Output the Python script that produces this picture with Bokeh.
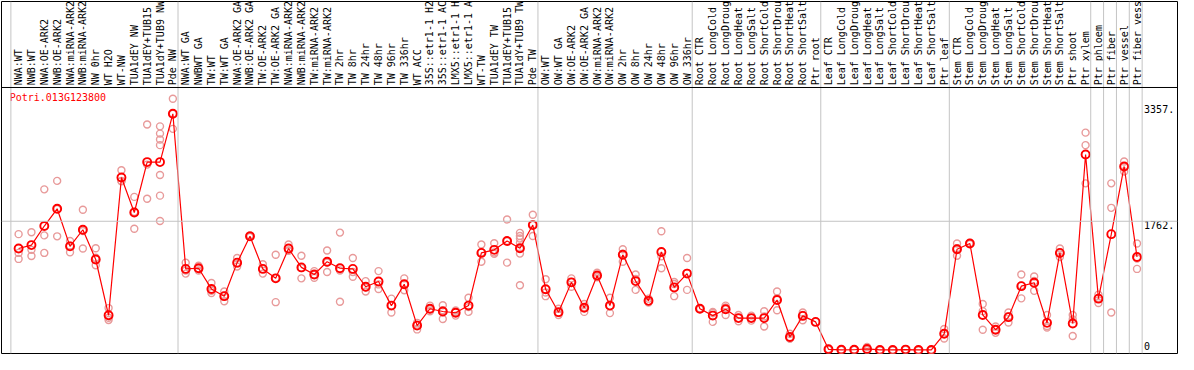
from math import pi
from bokeh.plotting import figure
from bokeh.models import Range1d, Span
from bokeh.core.properties import value
from bokeh.embed import file_html
from bokeh.resources import INLINE

gene_title = "Potri.013G123800"

samples = [
    "NWA:WT", "NWB:WT", "NWA:OE-ARK2", "NWB:OE-ARK2", "NWA:miRNA-ARK2", "NWB:miRNA-ARK2",
    "NW 0hr", "WT H2O", "WT-NW", "TUA1dEY NW", "TUA1dEY+TUB15", "TUA1dY+TUB9 NW", "Pde NW",
    "NWA:WT GA", "NWBWT GA", "TW:WT", "TW:WT GA", "NWA:OE-ARK2 GA", "NWB:OE-ARK2 GA",
    "TW:OE-ARK2", "TW:OE-ARK2 GA", "NWA:miRNA-ARK2", "NWB:miRNA-ARK2", "TW:miRNA-ARK2",
    "TW:miRNA-ARK2", "TW 2hr", "TW 8hr", "TW 24hr", "TW 48hr", "TW 96hr", "TW 336hr", "WT ACC",
    "35S::etr1-1 H2", "35S::etr1-1 AC", "LMX5::etr1-1 H", "LMX5::etr1-1 A", "WT-TW",
    "TUA1dEY TW", "TUA1dEY+TUB15", "TUA1dY+TUB9 TW", "Pde TW",
    "OW:WT", "OW:WT GA", "OW:OE-ARK2", "OW:OE-ARK2 GA", "OW:miRNA-ARK2", "OW:miRNA-ARK2",
    "OW 2hr", "OW 8hr", "OW 24hr", "OW 48hr", "OW 96hr", "OW 336hr",
    "Root CTR", "Root LongCold", "Root LongDroug", "Root LongHeat", "Root LongSalt",
    "Root ShortCold", "Root ShortDrou", "Root ShortHeat", "Root ShortSalt", "Ptr root",
    "Leaf CTR", "Leaf LongCold", "Leaf LongDroug", "Leaf LongHeat", "Leaf LongSalt",
    "Leaf ShortCold", "Leaf ShortDrou", "Leaf ShortHeat", "Leaf ShortSalt", "Ptr leaf",
    "Stem CTR", "Stem LongCold", "Stem LongDroug", "Stem LongHeat", "Stem LongSalt",
    "Stem ShortCold", "Stem ShortDrou", "Stem ShortHeat", "Stem ShortSalt", "Ptr shoot",
    "Ptr xylem", "Ptr phloem", "Ptr fiber", "Ptr vessel", "Ptr fiber vess",
]

group_sizes = [13, 28, 12, 10, 10, 11, 1, 1, 1, 1]

means = [
    1389, 1436, 1697, 1933, 1419, 1646, 1239, 475, 2362, 1882, 2572, 2572, 3233,
    1110, 1119, 836, 737, 1196, 1556, 1110, 981, 1389, 1131, 1033, 1209, 1119, 1110,
    866, 938, 608, 900, 334, 565, 527, 510, 608, 1329, 1371, 1492, 1393, 1710,
    831, 518, 926, 578, 1020, 608, 1303, 943, 673, 1342, 857, 1046,
    565, 471, 557, 437, 437, 437, 685, 179, 467, 385,
    10, 3, 4, 15, 1, 1, 6, 1, 1, 222,
    1380, 1457, 480, 278, 450, 874, 921, 372, 1329, 364, 2675,
    703, 1586, 2512, 1273,
]

replicates = [
    [1586, 1329, 1247], [1612, 1371, 1286], [2199, 1569, 1329], [2315, 1556, 1928],
    [1492, 1337, 1428], [1920, 1389, 1629], [1393, 1264, 1160], [574, 441, 411],
    [2461, 2311, 2314], [2096, 1659, 1891], [3087, 2070, 2538],
    [3061, 2962, 2881, 2804, 2396, 2113, 1766], [3438, 3027, 3234],
    [1196, 1046, 1088], [1153, 1088, 1116], [917, 780, 811], [801, 668, 743],
    [1260, 1144, 1184], [1570, 1550, 1548], [1174, 1046, 1110], [1303, 655, 985],
    [1444, 1359, 1364], [1290, 981, 1122], [1080, 990, 1029], [1363, 1067, 1197],
    [1607, 660, 1088], [1260, 1003, 1067], [943, 801, 854], [1080, 836, 898],
    [703, 514, 607], [981, 818, 901], [372, 282, 348], [608, 531, 556],
    [613, 424, 544], [540, 471, 519], [715, 522, 587], [1444, 1209, 1334],
    [1462, 1316, 1335], [1787, 1196, 1493],
    [1603, 1560, 1526, 1466, 1320, 887, 1389], [1852, 1560, 1718],
    [968, 737, 788], [565, 480, 510], [981, 866, 930], [630, 522, 582],
    [1058, 994, 1009], [715, 505, 604], [1380, 1209, 1320], [1033, 823, 973],
    [703, 651, 665], [1625, 1119, 1282], [930, 737, 904], [1260, 823, 1055],
    [560, 570, 565], [522, 385, 506], [608, 480, 583], [480, 394, 437],
    [471, 402, 438], [531, 321, 459], [801, 544, 710], [222, 158, 157],
    [514, 407, 480], [385],
    [14, 5, 11], [4, 2, 3], [6, 2, 4], [42, 0, 3], [1, 1, 1], [1, 1, 1],
    [10, 3, 5], [1, 1, 1], [1, 1, 1], [287, 158, 221],
    [1457, 1290, 1393], [1465, 1450, 1457], [630, 278, 532], [321, 235, 278],
    [514, 377, 459], [1033, 707, 882], [1007, 810, 946], [480, 308, 328],
    [1389, 1273, 1325], [480, 192, 420], [2975, 2804, 2281],
    [758, 643, 708], [2281, 1946, 514], [2581, 2444, 2511], [1457, 1110, 1252],
]

y_ticks = [3357, 1762, 0]
y_tick_labels = ["3357.", "1762.", "0"]
grid_value = 1762

# ---------------- layout constants ----------------
HEADER_Y = 3593      # separator between label header and plot area (data units)
Y_TOP = 4770
Y_BOTTOM = -47.6
MONO = value("DejaVu Sans Mono")
RED = "#ff0000"
PINK = "#e89a9a"
SEP = "#c4c4c4"

idx = list(range(len(samples)))
rep_x = [i for i, r in enumerate(replicates) for _ in r]
rep_y = [v for r in replicates for v in r]

p = figure(width=1178, height=354, output_backend="svg", toolbar_location=None, tools="",
           x_range=Range1d(-1.33, 90.15), y_range=Range1d(Y_BOTTOM, Y_TOP),
           x_axis_type=None, y_axis_type=None, min_border=1)
p.grid.visible = False
p.outline_line_color = "black"
p.outline_line_width = 1
p.background_fill_color = "white"
p.border_fill_color = "white"

# group separators
b = -0.5
bounds = [b]
for g in group_sizes:
    b += g
    bounds.append(b)
for bd in bounds:
    p.add_layout(Span(location=bd - 0.1, dimension="height", line_color=SEP, line_width=1))

p.add_layout(Span(location=grid_value, dimension="width", line_color=SEP, line_width=1))
p.add_layout(Span(location=HEADER_Y, dimension="width", line_color="black", line_width=1))

# header labels (vertical)
p.text(x=idx, y=[HEADER_Y + 30] * len(idx), text=samples, angle=pi / 2,
       text_align="left", text_baseline="middle", text_font=MONO,
       text_font_size="10px", text_color="black")

# gene title
p.text(x=[-0.69], y=[3452], text=[gene_title], text_align="left", text_baseline="middle",
       text_font=MONO, text_font_size="10px", text_color=RED)

# replicates
p.scatter(x=rep_x, y=rep_y, marker="circle", size=7, fill_color=None,
          line_color=PINK, line_width=1.4)

# mean line and markers
p.line(x=idx, y=means, line_color=RED, line_width=1.2)
p.scatter(x=idx, y=means, marker="circle", size=8, fill_color=None,
          line_color=RED, line_width=1.9)

# right-side value labels
p.text(x=[87.55] * 2, y=y_ticks[:2], text=y_tick_labels[:2], text_align="left",
       text_baseline="top", text_font=MONO, text_font_size="10px", text_color="black")
p.text(x=[87.55], y=y_ticks[2:], text=y_tick_labels[2:], text_align="left",
       text_baseline="bottom", text_font=MONO, text_font_size="10px", text_color="black")

open("out.html", "w").write(file_html(p, INLINE))
